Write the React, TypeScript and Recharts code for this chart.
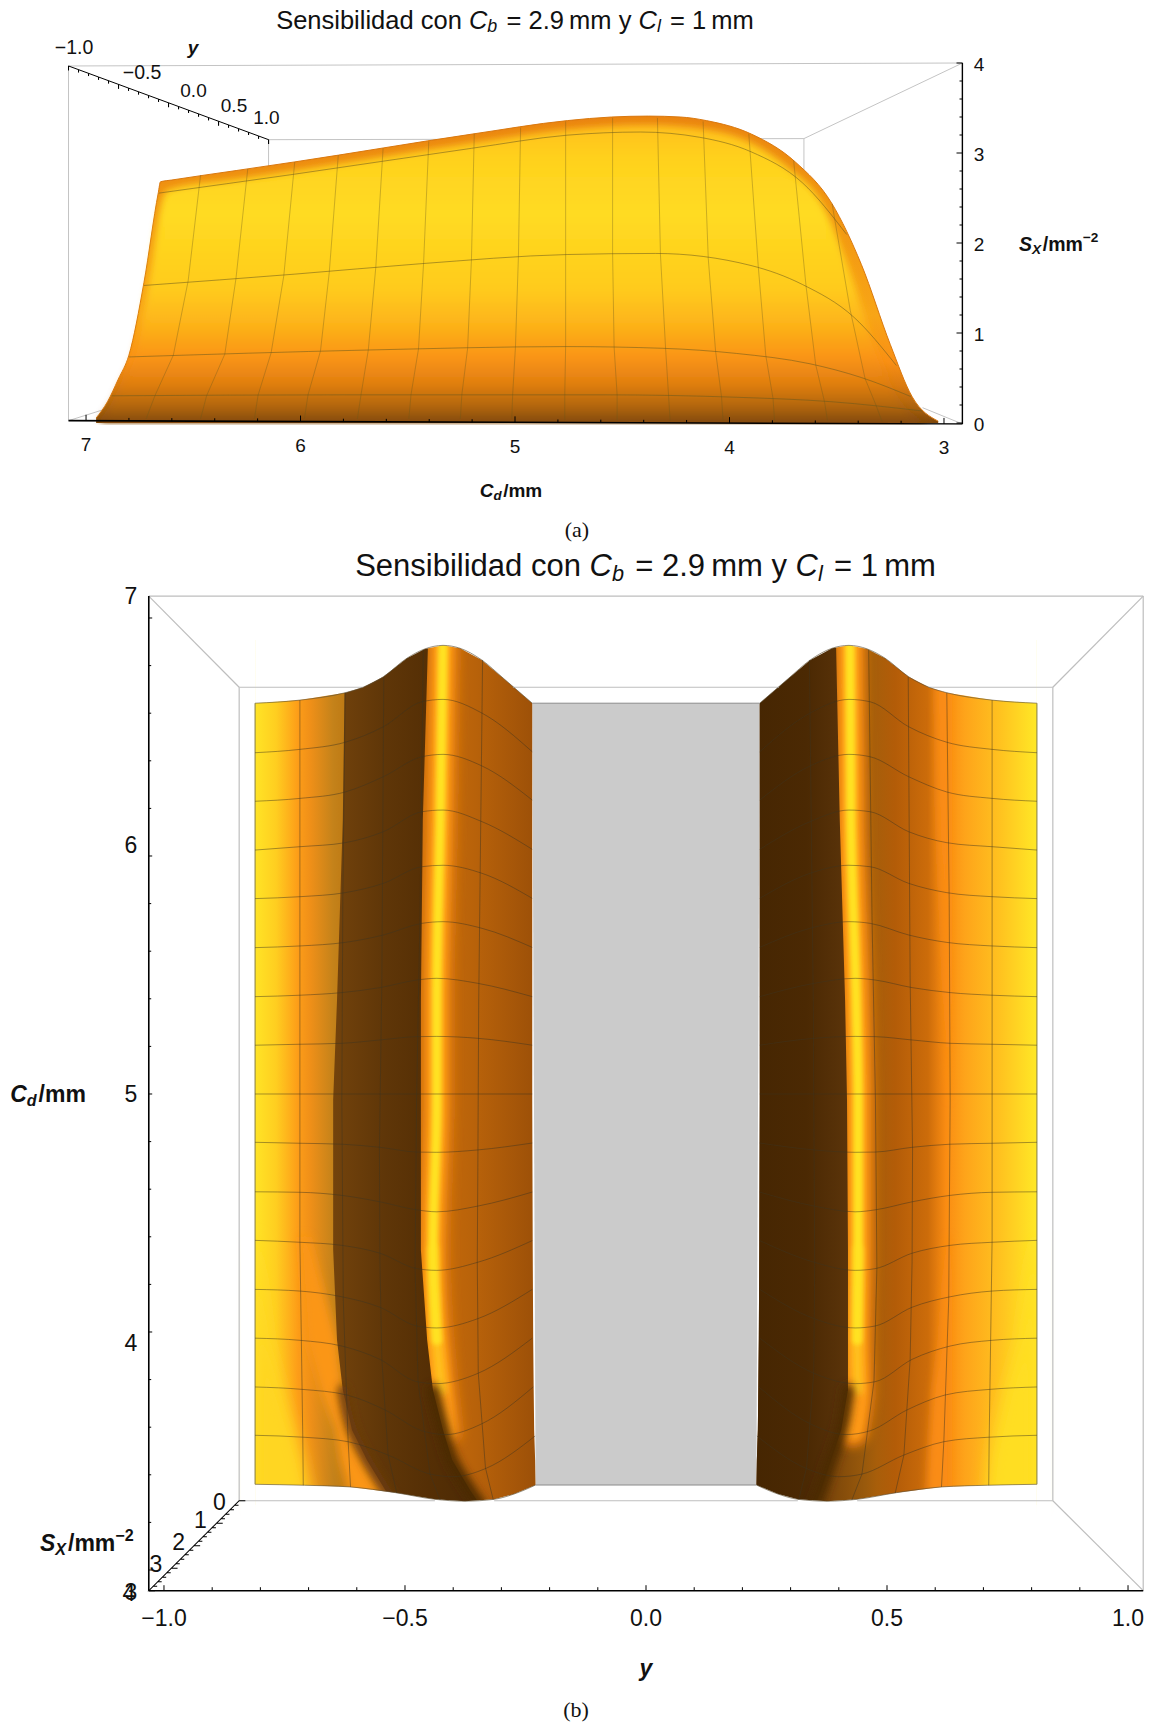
import React from "react";
import { ComposedChart, Area, Line, XAxis, YAxis } from "recharts";

type P = [number, number];
const FONT = "'Liberation Sans', Arial, sans-serif";

// ---------- Panel (a): Cd / Sx silhouette and mesh ----------
const outlineA: P[] = [[6.953,0.055],[6.9,0.236],[6.85,0.485],[6.8,0.754],[6.73,1.56],[6.663,2.56],[6.653,2.68],[6.6,2.7],[6.3,2.805],[6.03,2.9],[5.2,3.21],[4.756,3.36],[4.55,3.4],[4.378,3.41],[4.23,3.4],[4.108,3.36],[3.898,3.21],[3.693,2.9],[3.523,2.44],[3.385,1.76],[3.25,0.87],[3.148,0.29],[3.027,0.02]];
const innerA: P[] = [[6.93,0.055],[6.878,0.236],[6.828,0.485],[6.778,0.754],[6.708,1.56],[6.642,2.5],[6.625,2.58],[6.6,2.6],[6.3,2.705],[6.03,2.8],[5.2,3.11],[4.756,3.26],[4.378,3.31],[4.108,3.26],[3.898,3.11],[3.725,2.83],[3.57,2.44],[3.45,1.76],[3.325,0.87],[3.215,0.29],[3.08,0.02]];
const contoursA: P[][] = [
  [[6.661,2.554],[6.027,2.765],[5.203,3.052],[4.757,3.198],[4.414,3.233],[4.14,3.175],[3.9,3.014],[3.66,2.669],[3.454,2.095]],
  [[6.73,1.528],[6.027,1.654],[5.444,1.769],[4.757,1.872],[4.346,1.884],[3.9,1.75],[3.66,1.539],[3.42,1.175],[3.222,0.639]],
  [[6.8,0.734],[5.684,0.811],[4.757,0.849],[4.311,0.83],[3.968,0.773],[3.625,0.658],[3.385,0.505],[3.155,0.294]],
  [[6.88,0.302],[5.787,0.313],[4.586,0.313],[3.968,0.286],[3.522,0.236],[3.1,0.133]],
];
const ribsA: P[][] = [
  [[6.466,2.754],[6.524,1.577],[6.593,0.754],[6.679,0.302],[6.72,0.045]],
  [[6.246,2.823],[6.301,1.604],[6.353,0.765],[6.438,0.302],[6.466,0.045]],
  [[6.027,2.899],[6.078,1.635],[6.137,0.78],[6.198,0.309],[6.215,0.045]],
  [[5.824,2.976],[5.866,1.673],[5.907,0.8],[5.965,0.313],[5.982,0.045]],
  [[5.615,3.052],[5.649,1.731],[5.684,0.811],[5.718,0.313],[5.735,0.045]],
  [[5.402,3.129],[5.426,1.788],[5.45,0.823],[5.485,0.313],[5.495,0.045]],
  [[5.19,3.213],[5.203,1.826],[5.221,0.83],[5.248,0.313],[5.255,0.045]],
  [[4.974,3.282],[4.984,1.857],[4.998,0.842],[5.011,0.313],[5.015,0.045]],
  [[4.764,3.351],[4.764,1.876],[4.764,0.849],[4.768,0.313],[4.768,0.033]],
  [[4.545,3.39],[4.545,1.884],[4.538,0.846],[4.524,0.313],[4.524,0.033]],
  [[4.336,3.39],[4.322,1.872],[4.298,0.83],[4.284,0.302],[4.277,0.026]],
  [[4.123,3.351],[4.099,1.826],[4.065,0.8],[4.037,0.286],[4.03,0.026]],
  [[3.91,3.213],[3.866,1.742],[3.831,0.754],[3.797,0.271],[3.79,0.026]],
  [[3.701,2.918],[3.643,1.52],[3.598,0.646],[3.557,0.236],[3.543,0.026]],
  [[3.522,2.439],[3.437,1.252],[3.368,0.493],[3.317,0.198],[3.289,0.018]],
];
const wiresA: P[][] = [
  [[7.0816,3.967],[2.9138,4]],
  [[7.0816,3.967],[7.0816,0.026]],
  [[6.149,3.148],[3.653,3.16]],
  [[6.149,3.148],[6.149,2.6]],
  [[3.653,3.16],[3.653,2.6]],
  [[2.9138,4],[3.653,3.16]],
  [[7.0816,0.026],[6.85,0.2]],
  [[2.9138,-0.011],[3.1,0.17]],
];
const blackA: P[][] = [
  [[7.0816,0.026],[2.9138,-0.011]],
  [[2.9138,-0.011],[2.9138,4]],
];
const yAxisA: P[] = [[7.0816,3.967],[6.149,3.148]];
const cdTicksA = [3,3.2,3.4,3.6,3.8,4,4.2,4.4,4.6,4.8,5,5.2,5.4,5.6,5.8,6,6.2,6.4,6.6,6.8,7];
const sTicksA = [0,0.2,0.4,0.6,0.8,1,1.2,1.4,1.6,1.8,2,2.2,2.4,2.6,2.8,3,3.2,3.4,3.6,3.8,4];

// ---------- Panel (b): boundaries of the left sheet (y, Cd); right sheet mirrors it ----------
const topEdge: P[] = [[-0.811,6.642],[-0.718,6.655],[-0.624,6.686],[-0.587,6.709],[-0.545,6.753],[-0.496,6.831],[-0.459,6.87],[-0.421,6.885],[-0.386,6.873],[-0.341,6.824],[-0.296,6.747],[-0.236,6.642]];
const bottomEdge: P[] = [[-0.811,3.36],[-0.708,3.356],[-0.614,3.349],[-0.52,3.325],[-0.438,3.297],[-0.376,3.289],[-0.315,3.297],[-0.274,3.319],[-0.229,3.357]];
const colsA = [-0.811,-0.718,-0.624,-0.545,-0.465,-0.421,-0.34,-0.236];
const colsB = [-0.811,-0.718,-0.631,-0.552,-0.475,-0.434,-0.349,-0.236];
const cols14 = [-0.811,-0.714,-0.62,-0.541,-0.465,-0.415,-0.342,-0.234];
const cols15 = [-0.811,-0.712,-0.618,-0.535,-0.448,-0.4,-0.332,-0.23];
const contourCols = [colsA,colsA,colsA,colsA,colsA,colsB,colsB,colsB,colsB,colsB,colsB,colsB,colsB,cols14,cols15];
const contourCd: number[][] = [
  [6.434,6.448,6.478,6.543,6.648,6.658,6.6,6.438],
  [6.23,6.242,6.269,6.333,6.417,6.427,6.378,6.235],
  [6.025,6.039,6.056,6.102,6.186,6.193,6.144,6.028],
  [5.821,5.829,5.846,5.885,5.955,5.961,5.927,5.822],
  [5.615,5.622,5.637,5.668,5.717,5.724,5.696,5.616],
  [5.409,5.415,5.426,5.447,5.479,5.486,5.465,5.409],
  [5.205,5.209,5.213,5.227,5.241,5.242,5.234,5.205],
  [5,5,5,5,5,5,5,5],
  [4.797,4.793,4.789,4.776,4.756,4.755,4.765,4.794],
  [4.589,4.587,4.574,4.547,4.513,4.505,4.529,4.588],
  [4.385,4.377,4.364,4.331,4.266,4.259,4.293,4.384],
  [4.179,4.172,4.148,4.104,4.025,4.017,4.056,4.179],
  [3.974,3.965,3.941,3.885,3.791,3.783,3.826,3.974],
  [3.769,3.759,3.735,3.672,3.585,3.569,3.613,3.769],
  [3.566,3.558,3.539,3.483,3.403,3.392,3.427,3.563],
];
const ribsB: P[][] = [
  [[-0.718,6.655],[-0.718,5.395],[-0.718,4.385],[-0.712,3.558],[-0.711,3.356]],
  [[-0.624,6.686],[-0.629,5.815],[-0.631,4.975],[-0.628,4.134],[-0.618,3.546],[-0.613,3.349]],
  [[-0.544,6.752],[-0.548,5.479],[-0.553,4.765],[-0.552,4.294],[-0.548,3.885],[-0.535,3.483],[-0.517,3.323]],
  [[-0.462,6.866],[-0.469,5.731],[-0.476,4.975],[-0.479,4.269],[-0.473,3.794],[-0.448,3.403],[-0.427,3.294]],
  [[-0.339,6.824],[-0.347,5.395],[-0.349,4.639],[-0.35,4.294],[-0.348,3.828],[-0.333,3.429],[-0.317,3.296]],
];
const shadeRows = [6.908,6.151,5.395,4.975,4.345,3.966,3.756,3.588,3.462,3.336,3.273];
const lEdge = [-0.811,-0.811,-0.811,-0.811,-0.811,-0.811,-0.811,-0.811,-0.811,-0.811,-0.811];
const lDarkStart = [-0.624,-0.629,-0.641,-0.649,-0.649,-0.641,-0.629,-0.61,-0.579,-0.541,-0.521];
const lDarkEnd = [-0.452,-0.463,-0.467,-0.467,-0.467,-0.454,-0.442,-0.421,-0.402,-0.365,-0.344];
const lRight = [-0.236,-0.236,-0.236,-0.236,-0.235,-0.234,-0.233,-0.232,-0.23,-0.229,-0.228];
const rDarkEnd = [0.394,0.402,0.413,0.417,0.419,0.419,0.419,0.405,0.384,0.363,0.351];
const rEdge = [0.811,0.811,0.811,0.811,0.811,0.811,0.811,0.811,0.811,0.811,0.811];
const ridgeRows = [6.908,6.151,5.395,4.975,4.345,3.966,3.756,3.588];
const lRidge = [-0.421,-0.427,-0.434,-0.434,-0.442,-0.434,-0.424,-0.415];
const rRidge = [0.423,0.425,0.436,0.44,0.44,0.438,0.44,0.429];
const tongueRows = [4.4,3.966,3.756,3.588,3.462,3.273];
const lYellowTongue = [-0.808,-0.785,-0.755,-0.728,-0.71,-0.69];
const lOrangeTongueL = [-0.72,-0.705,-0.676,-0.645,-0.635,-0.61];
const lOrangeTongueR = [-0.7,-0.641,-0.629,-0.61,-0.579,-0.521];
const rOrangeLowL = [0.625,0.61,0.595,0.589,0.585,0.581];
const rOrangeLowR = [0.63,0.63,0.63,0.63,0.63,0.63];
const upperRows = [6.908,6.151,5.395,4.975];
const rOrangeUpL = [0.6,0.604,0.62,0.628];
const rOrangeUpR = [0.63,0.63,0.63,0.63];
const rYellowTongue = [0.805,0.776,0.745,0.724,0.712,0.703];
const lowerShadeRows = [3.756,3.588,3.462,3.336,3.273];
const lSoftRight = [-0.442,-0.421,-0.402,-0.365,-0.344];
const lSoftLeft = [-0.629,-0.61,-0.579,-0.541,-0.521];
const rSoftRight = [0.419,0.405,0.384,0.363,0.351];
const grayRect: { cd: number; r: P }[] = [{ cd: 6.642, r: [-0.236, 0.236] }, { cd: 3.357, r: [-0.229, 0.229] }];
const wiresB: P[][] = [
  [[-1.0315,7.092],[1.0315,7.092]],
  [[1.0315,7.092],[1.0315,2.913]],
  [[-0.844,6.709],[-0.587,6.709]],
  [[-0.276,6.709],[0.276,6.709]],
  [[0.587,6.709],[0.844,6.709]],
  [[-0.844,3.291],[-0.438,3.291]],
  [[-0.315,3.291],[0.315,3.291]],
  [[0.438,3.291],[0.844,3.291]],
  [[-0.844,6.709],[-0.844,3.291]],
  [[0.844,6.709],[0.844,3.291]],
  [[-1.0315,7.092],[-0.844,6.709]],
  [[1.0315,7.092],[0.844,6.709]],
  [[1.0315,2.913],[0.844,3.291]],
];
const blackB: P[][] = [
  [[-1.0315,2.913],[1.0315,2.913]],
  [[-1.0315,2.913],[-1.0315,7.092]],
];
const sAxisB: P[] = [[-0.844,3.291],[-1.0315,2.913]];
const yTicksB = [-1,-0.9,-0.8,-0.7,-0.6,-0.5,-0.4,-0.3,-0.2,-0.1,0,0.1,0.2,0.3,0.4,0.5,0.6,0.7,0.8,0.9,1];
const cdTicksB = [3,3.2,3.4,3.6,3.8,4,4.2,4.4,4.6,4.8,5,5.2,5.4,5.6,5.8,6,6.2,6.4,6.6,6.8,7];

// ---------- helpers ----------
const pts = (a: P[]) => a.map(([x, s]) => ({ x, s }));
const mirror = (a: P[]): P[] => a.map(([y, c]) => [-y, c] as P);
const isMajor = (v: number) => Math.abs(v - Math.round(v)) < 1e-6;
const fmt = (v: number) => (v < 0 ? "\u2212" : "") + Math.abs(v).toFixed(1);
const along = (a: P[], n: number, every: number, dx: number, dy: number): P[] => {
  const out: P[] = [];
  for (let i = 0; i <= n; i++) {
    const t = i / n;
    const p: P = [a[0][0] + (a[1][0] - a[0][0]) * t, a[0][1] + (a[1][1] - a[0][1]) * t];
    const k = i % every === 0 ? 1.6 : 1;
    out.push(p, [p[0] + dx * k, p[1] + dy * k], p);
  }
  return out;
};
const band = (l: number[], r: number[], rows = shadeRows) => rows.map((cd, i) => ({ cd, r: [l[i], r[i]] }));
const ridge = (v: number[], from: number, to: number) =>
  ridgeRows.map((cd, i) => ({ cd, x: v[i] })).slice(from, to);
const softLine = (v: number[]) => lowerShadeRows.map((cd, i) => ({ cd, x: v[i] }));

let uid = 0;
const seg = (a: P[], stroke: string, w: number, z: number, extra: any = {}) => (
  <Line key={"l" + uid++} data={pts(a)} dataKey="s" stroke={stroke} strokeWidth={w} dot={false} activeDot={false}
    isAnimationActive={false} legendType="none" zIndex={z} {...extra} />
);
const bandArea = (data: any[], fill: string, z: number, extra: any = {}) => (
  <Area key={"a" + uid++} data={data} dataKey="r" type="linear" fill={fill} fillOpacity={1} stroke="none" dot={false}
    activeDot={false} isAnimationActive={false} legendType="none" zIndex={z} {...extra} />
);
const glow = (data: any[], stroke: string, w: number, blur: string, z: number) => (
  <Line key={"g" + uid++} data={data} dataKey="x" type="monotone" stroke={stroke} strokeWidth={w} strokeLinecap="round" dot={false}
    activeDot={false} isAnimationActive={false} legendType="none" zIndex={z} filter={`url(#${blur})`} />
);
const Grad = ({ id, stops, vertical }: { id: string; stops: [number, string][]; vertical?: boolean }) => (
  <linearGradient id={id} x1="0" y1="0" x2={vertical ? "0" : "1"} y2={vertical ? "1" : "0"}>
    {stops.map(([o, c], i) => <stop key={i} offset={o} stopColor={c} />)}
  </linearGradient>
);
const Blur = ({ id, d }: { id: string; d: number }) => (
  <filter id={id} filterUnits="userSpaceOnUse" x={0} y={0} width={1154} height={1728}>
    <feGaussianBlur stdDeviation={d} />
  </filter>
);

// ---------- ticks ----------
const tickA = ({ x, payload }: any) => {
  const base = 420.7 + ((x - 68.5) * 3.3) / 894;
  const major = isMajor(payload.value);
  return (
    <g>
      <line x1={x} x2={x} y1={base} y2={base - (major ? 6 : 3)} stroke="#000" strokeWidth={1} />
      {major && <text x={x} y={base + 24} textAnchor="middle" dominantBaseline="central" fontSize={19} fontFamily={FONT} fill="#111">{payload.value}</text>}
    </g>
  );
};
const tickSA = ({ y, payload }: any) => {
  const major = isMajor(payload.value);
  return (
    <g>
      <line x1={962.5} x2={962.5 - (major ? 6 : 3)} y1={y} y2={y} stroke="#000" strokeWidth={1} />
      {major && <text x={979} y={y + 1} textAnchor="middle" dominantBaseline="central" fontSize={19} fontFamily={FONT} fill="#111">{payload.value}</text>}
    </g>
  );
};
const tickXB = ({ x, payload }: any) => {
  const v = payload.value;
  const major = Math.abs(v * 2 - Math.round(v * 2)) < 1e-6;
  return (
    <g>
      <line x1={x} x2={x} y1={1590.7} y2={1590.7 - (major ? 5.5 : 3.5)} stroke="#000" strokeWidth={1} />
      {major && <text x={x} y={1618} textAnchor="middle" dominantBaseline="central" fontSize={23} fontFamily={FONT} fill="#111">{fmt(v)}</text>}
    </g>
  );
};
const tickYB = ({ y, payload }: any) => {
  const major = isMajor(payload.value);
  return (
    <g>
      <line x1={148.7} x2={148.7 + (major ? 3.5 : 2.5)} y1={y} y2={y} stroke="#000" strokeWidth={1} />
      {major && <text x={131} y={y + (y - 1094) * 0.046} textAnchor="middle" dominantBaseline="central" fontSize={23} fontFamily={FONT} fill="#111">{payload.value}</text>}
    </g>
  );
};

const Sub = ({ a, b, size }: { a: string; b: string; size: number }) => (
  <>
    <tspan fontStyle="italic">{a}</tspan>
    <tspan fontStyle="italic" fontSize={size * 0.7} dy={size * 0.25}>{b}</tspan>
    <tspan dy={-size * 0.25}>{"\u200a"}</tspan>
  </>
);
const Title = ({ x, y, size }: { x: number; y: number; size: number }) => (
  <text x={x} y={y} textAnchor="middle" dominantBaseline="central" fontSize={size} fontFamily={FONT} fill="#111">
    <tspan>Sensibilidad con </tspan>
    <Sub a="C" b="b" size={size} />
    <tspan> = 2.9{"\u2009"}mm y </tspan>
    <Sub a="C" b="l" size={size} />
    <tspan> = 1{"\u2009"}mm</tspan>
  </text>
);
const CdLabel = ({ x, y, size }: { x: number; y: number; size: number }) => (
  <text x={x} y={y} textAnchor="middle" dominantBaseline="central" fontSize={size} fontFamily={FONT} fontWeight="bold" fill="#111">
    <Sub a="C" b="d" size={size} />
    <tspan>/mm</tspan>
  </text>
);
const SLabel = ({ x, y, size }: { x: number; y: number; size: number }) => (
  <text x={x} y={y} dominantBaseline="central" fontSize={size} fontFamily={FONT} fontWeight="bold" fill="#111">
    <Sub a="S" b="X" size={size} />
    <tspan>/mm</tspan>
    <tspan fontSize={size * 0.7} dy={-size * 0.35}>{"\u2212"}2</tspan>
  </text>
);
const plain = (x: number, y: number, s: string, size: number, family = FONT, extra: any = {}) => (
  <text key={s + x} x={x} y={y} textAnchor="middle" dominantBaseline="central" fontSize={size} fontFamily={family} fill="#111" {...extra}>{s}</text>
);

const layer: React.CSSProperties = { position: "absolute", left: 0, top: 0 };

export default function App() {
  uid = 0;
  const rTop = mirror(topEdge).reverse();
  const rBottom = mirror(bottomEdge).reverse();
  const meshB = contourCd.map((row, i) => row.map((c, j) => [contourCols[i][j], c] as P));
  const lInner = lRight.map((v) => -v);
  return (
    <div style={{ position: "absolute", left: 0, top: 0, width: 1154, height: 1728, background: "#fff", overflow: "hidden" }}>
      {/* Panel (a) */}
      <div style={layer}>
        <ComposedChart width={1154} height={540} margin={{ top: 62.1, left: 67.8, right: 130.7, bottom: 75.2 }}>
          <defs>
            <Grad id="aOuter" vertical stops={[[0,"#EA8410"],[0.4,"#F39A12"],[0.65,"#F8A516"],[0.8,"#F98F14"],[0.88,"#D97A10"],[0.955,"#A8600E"],[1,"#7F470A"]]} />
            <Grad id="aInner" vertical stops={[[0,"#FFC01E"],[0.12,"#FFD21F"],[0.3,"#FFDB20"],[0.55,"#FFCB1E"],[0.67,"#FDB319"],[0.78,"#FA9415"],[0.87,"#E07E10"],[0.95,"#AE640E"],[1,"#7F470A"]]} />
            <Blur id="aBlur" d={3.5} />
          </defs>
          <XAxis dataKey="x" type="number" reversed domain={[2.91, 7.085]} allowDataOverflow ticks={cdTicksA} interval={0} height={40} tick={tickA} tickLine={false} axisLine={false} />
          <YAxis dataKey="s" type="number" orientation="right" domain={[-0.02, 4.01]} allowDataOverflow ticks={sTicksA} interval={0} width={60} tick={tickSA} tickLine={false} axisLine={false} />
          {wiresA.map((w) => seg(w, "#C4C4C4", 1, 10))}
          <Area data={pts(outlineA)} dataKey="s" type="monotone" fill="url(#aOuter)" fillOpacity={1} stroke="#D9780F" strokeWidth={1} dot={false} activeDot={false} isAnimationActive={false} legendType="none" zIndex={20} />
          <Area data={pts(innerA)} dataKey="s" type="monotone" fill="url(#aInner)" fillOpacity={1} stroke="none" dot={false} activeDot={false} isAnimationActive={false} legendType="none" zIndex={21} filter="url(#aBlur)" />
          {ribsA.map((r) => seg(r, "#6B5A1E", 0.7, 30, { strokeOpacity: 0.5, type: "linear" }))}
          {contoursA.map((c) => seg(c, "#6B5A1E", 0.9, 30, { strokeOpacity: 0.6, type: "monotone" }))}
          {blackA.map((b) => seg(b, "#000", 1.6, 40))}
          {seg(along(yAxisA, 20, 5, 0, -0.03), "#000", 1, 40)}
        </ComposedChart>
      </div>

      {/* Panel (b): shading */}
      <div style={layer}>
        <ComposedChart layout="vertical" width={1154} height={1728} margin={{ top: 594.2, left: 147.1, right: 9.1, bottom: 135.4 }}>
          <defs>
            <Grad id="bBase" stops={[[0,"#FFE426"],[0.093,"#FFCE20"],[0.19,"#FD9D18"],[0.244,"#F09018"],[0.347,"#C4821A"],[0.4,"#BE7A14"],[1,"#B87012"]]} />
            <Grad id="bFlank" stops={[[0,"#6A3B08"],[0.47,"#C86C0A"],[0.7,"#B8620A"],[1,"#9C5008"]]} />
            <Grad id="bDark" stops={[[0,"#73430C"],[0.35,"#5F3608"],[0.65,"#552F05"],[1,"#4C2A05"]]} />
            <Grad id="rFull" stops={[[0,"#6A3B08"],[0.2,"#6A3B08"],[0.39,"#9A5A0C"],[0.43,"#A85E0A"],[0.495,"#B35C08"],[0.612,"#CC6C0A"],[0.676,"#FA8C12"],[0.744,"#FEA41A"],[0.861,"#FFC01F"],[1,"#FFE826"]]} />
            <Grad id="rDark" stops={[[0,"#462602"],[0.55,"#4B2903"],[1,"#5B340A"]]} />
            <Blur id="b2" d={2} />
            <Blur id="b3" d={3} />
            <Blur id="b4" d={4} />
            <Blur id="b5" d={5} />
            <Blur id="b8" d={8} />
          </defs>
          <XAxis type="number" hide domain={[-1.035, 1.035]} allowDataOverflow />
          <YAxis dataKey="cd" type="number" hide reversed domain={[2.905, 7.1]} allowDataOverflow />
          {bandArea(grayRect, "#CBCBCB", 1)}
          {bandArea(band(lDarkStart, lRight), "url(#bFlank)", 2)}
          {bandArea(band(lEdge, lDarkEnd), "url(#bBase)", 2)}
          {bandArea(band(lOrangeTongueL, lOrangeTongueR, tongueRows), "#FB9616", 2, { filter: "url(#b5)" })}
          {bandArea(band(lEdge, lYellowTongue, tongueRows), "#FFD620", 2, { filter: "url(#b8)" })}
          {bandArea(band(lInner, rEdge), "url(#rFull)", 2)}
          {bandArea(band(rOrangeLowL, rOrangeLowR, tongueRows), "#FA8C12", 2, { filter: "url(#b4)" })}
          {bandArea(band(rOrangeUpL, rOrangeUpR, upperRows), "#FA8C12", 2, { filter: "url(#b4)" })}
          {bandArea(band(rYellowTongue, rEdge.slice(0, 6), tongueRows), "#FFDE20", 2, { filter: "url(#b8)" })}
          {glow(ridge(lRidge, 0, 8), "#D8760C", 36, "b4", 3)}
          {glow(ridge(lRidge, 0, 8), "#FF9A14", 22, "b3", 4)}
          {glow(ridge(lRidge, 4, 7), "#FFC21E", 10, "b3", 5)}
          {glow(ridge(lRidge, 0, 6), "#FFE220", 10, "b2", 6)}
          {glow(ridge(rRidge, 0, 8), "#D8760C", 36, "b4", 3)}
          {glow(ridge(rRidge, 0, 8), "#FF9A14", 22, "b3", 4)}
          {glow(ridge(rRidge, 4, 7), "#FFC21E", 10, "b3", 5)}
          {glow(ridge(rRidge, 0, 6), "#FFE220", 10, "b2", 6)}
          {bandArea(band(lDarkStart, lDarkEnd), "url(#bDark)", 7)}
          {bandArea(band(lInner, rDarkEnd), "url(#rDark)", 7)}
          {glow(softLine(lSoftRight), "#4C2A05", 12, "b4", 8)}
          {glow(softLine(lSoftLeft), "#6A3B0A", 10, "b4", 8)}
          {glow(softLine(rSoftRight), "#4B2903", 12, "b4", 8)}
        </ComposedChart>
      </div>

      {/* Panel (b): masks, frame, mesh, axes */}
      <div style={layer}>
        <ComposedChart width={1154} height={1728} margin={{ top: 594.2, left: 87.1, right: 9.1, bottom: 95.4 }}>
          <XAxis dataKey="x" type="number" domain={[-1.035, 1.035]} allowDataOverflow ticks={yTicksB} interval={0} height={40} tick={tickXB} tickLine={false} axisLine={false} />
          <YAxis dataKey="s" type="number" domain={[2.905, 7.1]} allowDataOverflow ticks={cdTicksB} interval={0} width={60} tick={tickYB} tickLine={false} axisLine={false} />
          {bandArea([...topEdge, [-0.22, 6.642] as P].map(([x, c]) => ({ x, r: [c, 7.08] })), "#fff", 2)}
          {bandArea([[0.22, 6.642] as P, ...rTop].map(([x, c]) => ({ x, r: [c, 7.08] })), "#fff", 2)}
          {bandArea([...bottomEdge, [-0.215, 3.357] as P].map(([x, c]) => ({ x, r: [3.1, c] })), "#fff", 2)}
          {bandArea([[0.215, 3.357] as P, ...rBottom].map(([x, c]) => ({ x, r: [3.1, c] })), "#fff", 2)}
          {bandArea([{ x: -0.84, r: [3.1, 7.08] }, { x: -0.811, r: [3.1, 7.08] }], "#fff", 2)}
          {bandArea([{ x: 0.811, r: [3.1, 7.08] }, { x: 0.84, r: [3.1, 7.08] }], "#fff", 2)}
          {wiresB.map((w) => seg(w, "#BEBEBE", 1.2, 3))}
          {[topEdge, rTop, bottomEdge, rBottom].map((e) => seg(e, "#5E5238", 0.9, 4, { type: "monotone", strokeOpacity: 0.7 }))}
          {seg([[-0.236,6.642],[0.236,6.642]], "#8C8C8C", 1, 4)}
          {seg([[-0.229,3.357],[0.229,3.357]], "#8C8C8C", 1, 4)}
          {seg([[-0.811,6.642],[-0.811,3.36]], "#857B3A", 1, 4)}
          {seg([[0.811,6.642],[0.811,3.36]], "#857B3A", 1, 4)}
          {meshB.map((m) => seg(m, "#3D3420", 0.85, 5, { type: "monotone", strokeOpacity: 0.55 }))}
          {meshB.map((m) => seg(mirror(m), "#3D3420", 0.85, 5, { type: "monotone", strokeOpacity: 0.55 }))}
          {ribsB.map((r) => seg(r, "#3D3420", 0.85, 5, { strokeOpacity: 0.55 }))}
          {ribsB.map((r) => seg(mirror(r), "#3D3420", 0.85, 5, { strokeOpacity: 0.55 }))}
          {blackB.map((b) => seg(b, "#000", 1.6, 6))}
          {seg(along(sAxisB, 20, 5, 0.008, 0), "#000", 1.1, 6)}
        </ComposedChart>
      </div>

      {/* Titles and labels */}
      <svg width={1154} height={1728} style={{ ...layer, pointerEvents: "none" }}>
        <Title x={515} y={20} size={25.5} />
        {plain(74, 46.5, "\u22121.0", 19.5)}
        {plain(142, 72.4, "\u22120.5", 19.5)}
        {plain(193.5, 90.7, "0.0", 19)}
        {plain(234, 105, "0.5", 19)}
        {plain(266.4, 117, "1.0", 19)}
        {plain(193, 47, "y", 19, FONT, { fontWeight: "bold", fontStyle: "italic" })}
        <SLabel x={1019} y={244} size={19.5} />
        <CdLabel x={511} y={490} size={19} />
        {plain(577, 529, "(a)", 22, "'Liberation Serif', serif")}
        <Title x={645.5} y={565} size={31} />
        <CdLabel x={48} y={1094} size={23} />
        <SLabel x={40} y={1543} size={23} />
        {plain(219.5, 1501.7, "0", 23)}
        {plain(200.5, 1520, "1", 23)}
        {plain(178.7, 1542, "2", 23)}
        {plain(156, 1564, "3", 23)}
        {plain(129, 1593, "4", 23)}
        {plain(646, 1668, "y", 23, FONT, { fontWeight: "bold", fontStyle: "italic" })}
        {plain(576, 1709, "(b)", 22, "'Liberation Serif', serif")}
      </svg>
    </div>
  );
}
